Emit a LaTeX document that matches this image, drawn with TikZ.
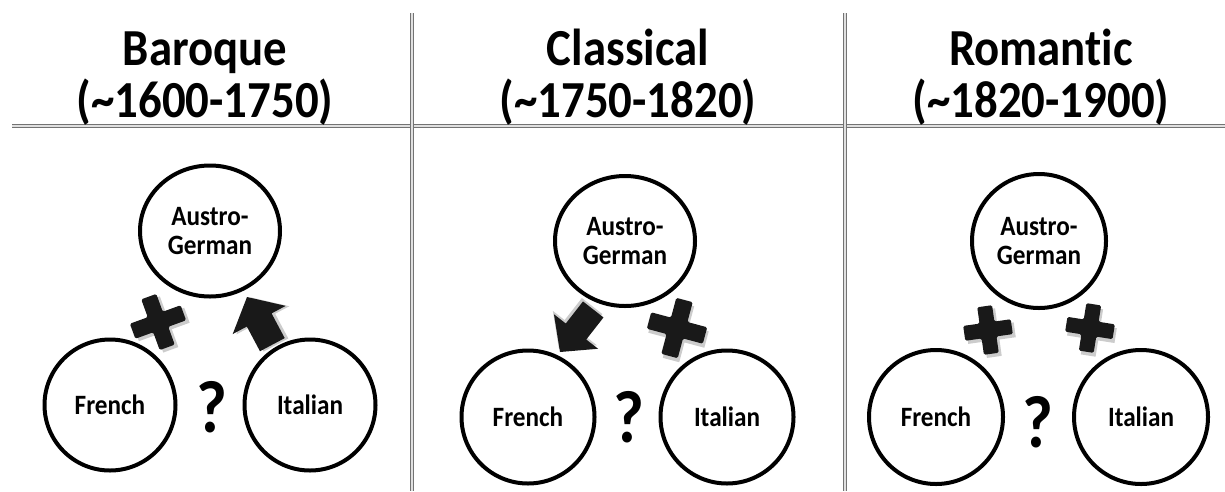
\documentclass[tikz,border=0pt]{standalone}
\usepackage{fontspec}
\newfontfamily\calb{Carlito}[FakeStretch=0.9, RawFeature={-liga}]
\usetikzlibrary{shapes.geometric}
\tikzset{
  sep/.style={draw=black!55, double=black!12, line width=1.2pt, double distance=1.3pt},
  head/.style={font=\calb\bfseries\fontsize{52}{52}\selectfont, inner sep=0pt, anchor=base},
  circ/.style={circle, draw=black, line width=4pt, inner sep=0pt, align=center,
    font=\calb\bfseries\fontsize{28}{29}\selectfont},
  agcirc/.style={ellipse, draw=black, line width=4pt, inner sep=0pt, align=center,
    font=\calb\bfseries\fontsize{28}{29}\selectfont},
  qmark/.style={font=\calb\bfseries\fontsize{74}{74}\selectfont, inner sep=0pt},
  pics/plussign/.style 2 args={code={
    \fill[black!40, opacity=0.5, shift={(2.5,-3.5)}]
      (-#1,-#2) -- (-#2,-#2) -- (-#2,-#1) -- (#2,-#1) -- (#2,-#2) -- (#1,-#2) --
      (#1,#2) -- (#2,#2) -- (#2,#1) -- (-#2,#1) -- (-#2,#2) -- (-#1,#2) -- cycle;
    \fill[black!90, rounded corners=1.5pt]
      (-#1,-#2) -- (-#2,-#2) -- (-#2,-#1) -- (#2,-#1) -- (#2,-#2) -- (#1,-#2) --
      (#1,#2) -- (#2,#2) -- (#2,#1) -- (-#2,#1) -- (-#2,#2) -- (-#1,#2) -- cycle;
  }},
  pics/blockarrow/.style 2 args={code={
    \fill[black!40, opacity=0.5, shift={(-2,-3)}]
      (0,0) -- (-26,#1) -- (-26,#2) -- (-54,#2) -- (-54,-#2) -- (-26,-#2) -- (-26,-#1) -- cycle;
    \fill[black!90]
      (0,0) -- (-26,#1) -- (-26,#2) -- (-54,#2) -- (-54,-#2) -- (-26,-#2) -- (-26,-#1) -- cycle;
  }}
}
\begin{document}
\begin{tikzpicture}[x=1pt,y=1pt]
\useasboundingbox (0,0) rectangle (1225,-491);
% separators
\coordinate (hl) at (12,-126);
\coordinate (hr) at (1225,-126);
\coordinate (v1t) at (412,-13);
\coordinate (v1b) at (412,-491);
\coordinate (v2t) at (845,-13);
\coordinate (v2b) at (845,-491);
\draw[sep] (hl) -- (hr);
\draw[sep] (v1t) -- (v1b);
\draw[sep] (v2t) -- (v2b);
% headings
\node[head] (h1a) at (205,-65) {Baroque};
\node[head] (h1b) at (205,-117) {(\textasciitilde1600-1750)};
\node[head] (h2a) at (628,-65) {Classical};
\node[head] (h2b) at (628,-117) {(\textasciitilde1750-1820)};
\node[head] (h3a) at (1041,-65) {Romantic};
\node[head] (h3b) at (1041,-117) {(\textasciitilde1820-1900)};
% Baroque
\node[agcirc, minimum width=140pt, minimum height=131pt] (bag) at (210,-231) {Austro-\\German};
\node[circ, minimum size=131pt] (bfr) at (110,-405) {French};
\node[circ, minimum size=131pt] (bit) at (310,-405) {Italian};
\node[qmark] (bq) at (212,-407) {?};
\pic[rotate=20] at (158,-322) {plussign={27}{8}};
\pic[rotate=118] at (247,-297) {blockarrow={30}{14}};
% Classical
\node[agcirc, minimum width=140pt, minimum height=130pt] (cag) at (625,-241) {Austro-\\German};
\node[circ, minimum size=133pt] (cfr) at (528,-417) {French};
\node[circ, minimum size=133pt] (cit) at (727,-417) {Italian};
\node[qmark] (cq) at (629,-417) {?};
\pic[rotate=-15] at (677,-328) {plussign={29}{8.5}};
\pic[rotate=232] at (560,-352) {blockarrow={28}{13}};
% Romantic
\node[circ, minimum size=134pt] (rag) at (1039,-241) {Austro-\\German};
\node[circ, minimum size=134pt] (rfr) at (936,-417) {French};
\node[circ, minimum size=134pt] (rit) at (1141,-417) {Italian};
\node[qmark] (rq) at (1038,-422) {?};
\pic[rotate=8] at (988,-330) {plussign={24}{7.5}};
\pic[rotate=-9] at (1090,-328) {plussign={24}{7.5}};
\end{tikzpicture}
\end{document}
